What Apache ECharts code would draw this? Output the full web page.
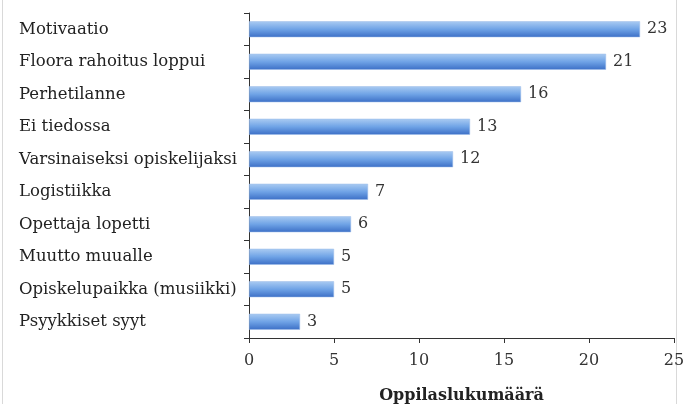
<!DOCTYPE html>
<html><head><meta charset="utf-8">
<script src="https://cdn.jsdelivr.net/npm/echarts@6/dist/echarts.min.js"></script>
<style>html,body{margin:0;padding:0;background:#fff}#c{width:687px;height:404px}</style>
</head><body><div id="c"></div>
<script>
const categories = ["Motivaatio","Floora rahoitus loppui","Perhetilanne","Ei tiedossa","Varsinaiseksi opiskelijaksi","Logistiikka","Opettaja lopetti","Muutto muualle","Opiskelupaikka (musiikki)","Psyykkiset syyt"];
const values = [23,21,16,13,12,7,6,5,5,3];
const xTicks = [0,5,10,15,20,25];
const axisTitle = "Oppilaslukumäärä";
const font = "DejaVu Serif";
const chart = echarts.init(document.getElementById('c'));
chart.setOption({
  animation:false,
  graphic:[{type:'rect',shape:{x:2.5,y:-5,width:674,height:420},style:{fill:'none',stroke:'#d9d9d9',lineWidth:1},silent:true}],
  grid:{left:249,right:13,top:13,bottom:66,outerBoundsMode:'none',containLabel:false},
  xAxis:{type:'value',min:0,max:25,interval:5,
    name:axisTitle,nameLocation:'middle',nameGap:50,
    nameTextStyle:{fontFamily:font,fontWeight:'bold',fontSize:16,color:'#222'},
    axisLine:{show:true,lineStyle:{color:'#333'}},
    axisTick:{show:true,length:5,lineStyle:{color:'#333'}},
    axisLabel:{fontFamily:font,fontSize:16,color:'#333',margin:15,formatter:v=>xTicks.includes(v)?String(v):''},
    splitLine:{show:false}},
  yAxis:{type:'category',data:categories,inverse:true,
    axisLine:{show:true,lineStyle:{color:'#333'}},
    axisTick:{show:true,length:5,lineStyle:{color:'#333'}},
    axisLabel:{fontFamily:font,fontSize:16.5,color:'#222',align:'left',margin:230}},
  series:[{type:'bar',data:values,barWidth:16,
    itemStyle:{color:new echarts.graphic.LinearGradient(0,0,0,1,[{offset:0,color:'#aacbf2'},{offset:0.5,color:'#6fa3e6'},{offset:1,color:'#3c6fc6'}]),borderColor:'#9cbde8',borderWidth:0.5},
    label:{show:true,position:'right',distance:7,fontFamily:font,fontSize:16,color:'#333'}}]
});
</script></body></html>
